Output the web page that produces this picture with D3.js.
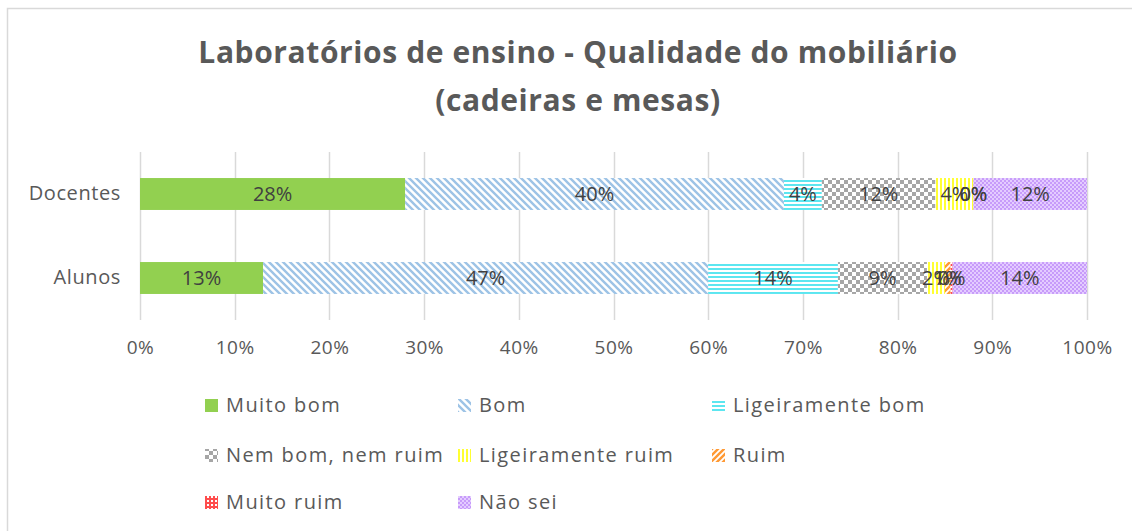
<!DOCTYPE html>
<html>
<head>
<meta charset="utf-8">
<script src="https://cdn.jsdelivr.net/npm/d3@7"></script>
<style>
  body { margin: 0; background: #fff; }
  svg { display: block; font-family: "Open Sans", "Noto Sans", sans-serif; }
</style>
</head>
<body>
<svg id="chart" width="1132" height="531"></svg>
<script>
const groups = ["Docentes", "Alunos"]
const seriesNames = ["Muito bom", "Bom", "Ligeiramente bom", "Nem bom, nem ruim",
  "Ligeiramente ruim", "Ruim", "Muito ruim", "Não sei"]
// percent per series, one entry per group (Docentes, Alunos)
const muitoBom = [28, 13]
const bom = [40, 47]
const ligBom = [4, 13.7]
const nemNem = [12, 9.4]
const ligRuim = [4, 1.9]
const ruim = [0, 0.6]
const muitoRuim = [0, 0.2]
const naoSei = [12, 14.2]
const tickValues = [0, 10, 20, 30, 40, 50, 60, 70, 80, 90, 100]

const seriesValues = [muitoBom, bom, ligBom, nemNem, ligRuim, ruim, muitoRuim, naoSei]

const svg = d3.select("#chart")
const defs = svg.append("defs")

// fills: pattern definitions per series
function pat(id, w, h, bg, draw) {
  const p = defs.append("pattern").attr("id", id).attr("patternUnits", "userSpaceOnUse")
    .attr("width", w).attr("height", h)
  p.append("rect").attr("width", w).attr("height", h).attr("fill", bg)
  draw(p)
  return `url(#${id})`
}
const fills = [
  "#92D050",
  pat("p_bom", 7, 7, "#fff", (p) => {
    p.append("path").attr("d", "M-1,-1 L8,8 M-4,3 L1,8 M3,-4 L8,1").attr("stroke", "#9DC3E6").attr("stroke-width", 2.4)
  }),
  pat("p_ligbom", 4, 4, "#fff", (p) => {
    p.append("rect").attr("y", 0).attr("width", 4).attr("height", 2).attr("fill", "#5CE6F0")
  }),
  pat("p_nem", 8, 8, "#fff", (p) => {
    p.append("rect").attr("width", 4).attr("height", 4).attr("fill", "#A6A6A6")
    p.append("rect").attr("x", 4).attr("y", 4).attr("width", 4).attr("height", 4).attr("fill", "#A6A6A6")
  }),
  pat("p_ligruim", 4, 4, "#fff", (p) => {
    p.append("rect").attr("width", 2).attr("height", 4).attr("fill", "#FFFF33")
  }),
  pat("p_ruim", 6, 6, "#fff", (p) => {
    p.append("path").attr("d", "M-1,7 L7,-1 M-4,4 L4,-4 M2,10 L10,2").attr("stroke", "#FF9933").attr("stroke-width", 2.4)
  }),
  pat("p_muitoruim", 4, 4, "#fff", (p) => {
    p.append("rect").attr("width", 4).attr("height", 2).attr("fill", "#FF4D4D")
    p.append("rect").attr("width", 2).attr("height", 4).attr("fill", "#FF4D4D")
  }),
  pat("p_naosei", 4, 4, "#E4CCFF", (p) => {
    p.append("rect").attr("width", 2).attr("height", 2).attr("fill", "#C79BFA")
    p.append("rect").attr("x", 2).attr("y", 2).attr("width", 2).attr("height", 2).attr("fill", "#C79BFA")
  }),
]

// outer frame
svg.append("rect").attr("x", 7.5).attr("y", 8.5).attr("width", 1140).attr("height", 540)
  .attr("fill", "#fff").attr("stroke", "#D9D9D9").attr("stroke-width", 1.5)

// title
const title = svg.append("text").attr("x", 578).attr("text-anchor", "middle")
  .attr("fill", "#595959").attr("font-size", 30).attr("font-weight", "bold")
  .attr("letter-spacing", 0.6)
title.append("tspan").attr("x", 578).attr("y", 63).text("Laboratórios de ensino - Qualidade do mobiliário")
title.append("tspan").attr("x", 578).attr("y", 111).text("(cadeiras e mesas)")

const x = d3.scaleLinear().domain([0, 100]).range([140, 1087])
const y = d3.scaleBand().domain(groups).range([152, 320]).paddingInner(0.62).paddingOuter(0.31)

// gridlines
svg.append("g").selectAll("line").data(tickValues).join("line")
  .attr("x1", (d) => Math.round(x(d)) + 0.5).attr("x2", (d) => Math.round(x(d)) + 0.5)
  .attr("y1", 152).attr("y2", 320)
  .attr("stroke", "#D9D9D9").attr("stroke-width", 1.5)

// x axis labels
const xAxis = svg.append("g").attr("transform", "translate(0,320)")
  .call(d3.axisBottom(x).tickValues(tickValues).tickFormat((d) => d + "%").tickSize(0).tickPadding(21))
xAxis.select(".domain").remove()
xAxis.selectAll("text").attr("fill", "#595959").attr("font-size", 19).attr("letter-spacing", 0.5)
  .attr("font-family", "Open Sans, sans-serif")

// category labels
const yAxis = svg.append("g").attr("transform", "translate(121,0)")
  .call(d3.axisLeft(y).tickSize(0).tickPadding(0))
yAxis.select(".domain").remove()
yAxis.selectAll("text").attr("fill", "#595959").attr("font-size", 20).attr("letter-spacing", 0.6)
  .attr("font-family", "Open Sans, sans-serif")

// stacked segments
const rows = groups.map((g, gi) => {
  const r = { group: g }
  seriesNames.forEach((s, si) => { r[s] = seriesValues[si][gi] })
  return r
})
const stack = d3.stack().keys(seriesNames)(rows)

const layers = svg.append("g").selectAll("g").data(stack).join("g")
  .attr("fill", (d, i) => fills[i])
layers.selectAll("rect").data((d) => d).join("rect")
  .attr("x", (d) => x(d[0])).attr("width", (d) => x(d[1]) - x(d[0]))
  .attr("y", (d) => y(d.data.group)).attr("height", y.bandwidth())

// data labels
const labelG = svg.append("g")
stack.forEach((layer) => {
  layer.forEach((d) => {
    labelG.append("text")
      .attr("x", (x(d[0]) + x(d[1])) / 2)
      .attr("y", y(d.data.group) + y.bandwidth() / 2)
      .attr("dy", "0.36em").attr("text-anchor", "middle")
      .attr("fill", "#404040").attr("font-size", 20).attr("font-weight", 500)
      .text(Math.round(d[1] - d[0]) + "%")
  })
})

// legend
const legendCols = [205, 458, 712]
const legendRows = [405, 455, 502]
const legend = svg.append("g").selectAll("g").data(seriesNames).join("g")
  .attr("transform", (d, i) => `translate(${legendCols[i % 3]},${legendRows[Math.floor(i / 3)]})`)
legend.append("rect").attr("x", 0).attr("y", -6).attr("width", 13).attr("height", 13)
  .attr("fill", (d, i) => fills[i])
legend.append("text").attr("x", 21).attr("dy", "0.36em")
  .attr("fill", "#595959").attr("font-size", 20).attr("letter-spacing", 1.4).text((d) => d)
</script>
</body>
</html>
